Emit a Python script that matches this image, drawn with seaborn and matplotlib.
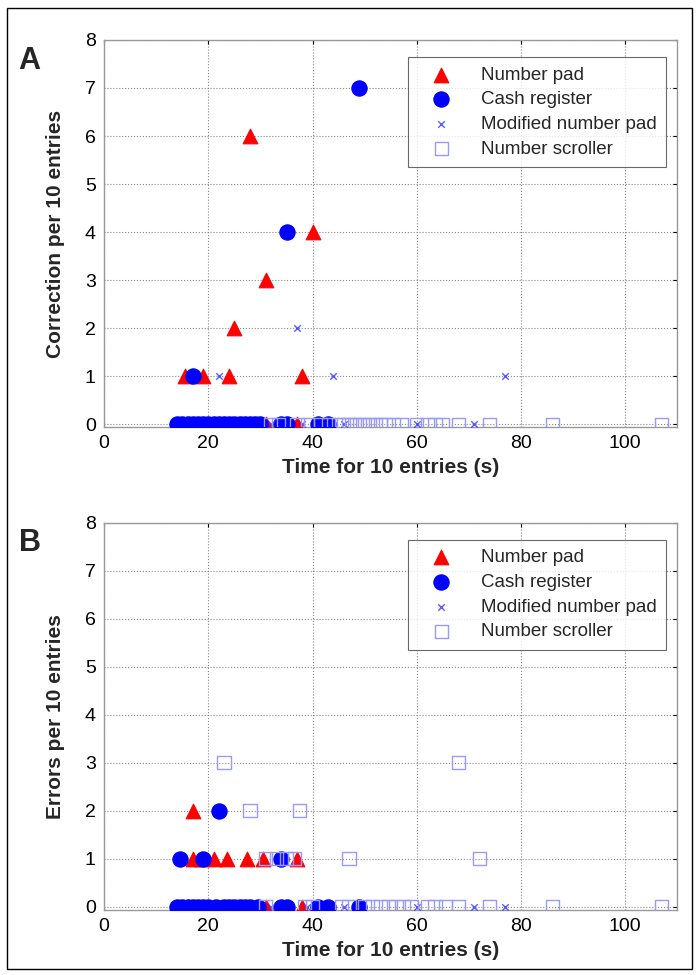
import pandas as pd
import seaborn as sns
import matplotlib.pyplot as plt
from matplotlib.patches import Rectangle

# ---- Panel A: corrections per 10 entries ----
pad_a_x = [28, 40, 31, 25, 15.5, 19, 24, 38,
           14.5, 16, 17.5, 18.5, 20, 21, 22, 23, 24.5, 25.5, 26.5, 27, 28.5, 29.5, 31, 37]
pad_a_y = [6, 4, 3, 2, 1, 1, 1, 1,
           0, 0, 0, 0, 0, 0, 0, 0, 0, 0, 0, 0, 0, 0, 0, 0]
cash_a_x = [49, 35, 17,
            14, 15, 16, 17, 18, 19, 20, 21, 22, 23, 24, 25, 26, 27, 28, 29, 30, 34, 35, 41, 43]
cash_a_y = [7, 4, 1,
            0, 0, 0, 0, 0, 0, 0, 0, 0, 0, 0, 0, 0, 0, 0, 0, 0, 0, 0, 0, 0]
mod_a_x = [37, 22, 44, 77, 32, 38, 46, 60, 71]
mod_a_y = [2, 1, 1, 1, 0, 0, 0, 0, 0]
scroll_a_x = [32, 33.5, 37, 39, 41.5, 43, 45, 46, 47, 48, 49, 50, 51, 52, 53, 54, 55.5, 57,
              60, 62, 63.5, 65, 68, 74, 86, 107]
scroll_a_y = [0] * len(scroll_a_x)

# ---- Panel B: errors per 10 entries ----
pad_b_x = [17, 17, 18.5, 21, 23.5, 27.5, 30.5, 37,
           14.5, 16, 17.5, 18.5, 20, 21, 22.5, 23.5, 24.5, 25.5, 26.5, 28, 29.5, 31, 38]
pad_b_y = [2, 1, 1, 1, 1, 1, 1, 1,
           0, 0, 0, 0, 0, 0, 0, 0, 0, 0, 0, 0, 0, 0, 0]
cash_b_x = [22, 14.5, 19, 34,
            14, 15, 16, 17, 18, 19, 20, 21.5, 23, 24, 25, 26, 27, 28, 29.5, 34, 35, 41, 43, 49]
cash_b_y = [2, 1, 1, 1,
            0, 0, 0, 0, 0, 0, 0, 0, 0, 0, 0, 0, 0, 0, 0, 0, 0, 0, 0, 0]
mod_b_x = [32, 39, 46, 60, 71, 77]
mod_b_y = [0, 0, 0, 0, 0, 0]
scroll_b_x = [23, 68, 28, 37.5, 31, 33, 35, 36.5, 47, 72,
              31, 38.5, 40, 45.5, 47, 50, 51.5, 53, 54.5, 56, 57.5, 59, 62, 63.5, 65.5, 68, 74, 86, 107]
scroll_b_y = [3, 3, 2, 2, 1, 1, 1, 1, 1, 1,
              0, 0, 0, 0, 0, 0, 0, 0, 0, 0, 0, 0, 0, 0, 0, 0, 0, 0, 0]

labels = ["Number pad", "Cash register", "Modified number pad", "Number scroller"]

sns.set_style("white")
plt.rcParams["font.family"] = ["Liberation Sans", "DejaVu Sans"]


def draw_panel(ax, series, ylabel, letter):
    # series: list of (x, y) in legend order
    styles = [
        dict(marker="^", s=110, color="#ff0000", edgecolor="#ff0000"),
        dict(marker="o", s=120, color="#0000ff", edgecolor="#0000ff"),
        dict(marker="x", s=22, color="#3333ff", linewidth=1.0, alpha=0.8),
        dict(marker="s", s=90, facecolor="none", edgecolor="#9999ff", linewidth=1.0),
    ]
    for (x, y), lab, st in zip(series, labels, styles):
        df = pd.DataFrame({"x": x, "y": y})
        sns.scatterplot(data=df, x="x", y="y", ax=ax, label=lab, zorder=3, **st)

    ax.set_xlim(0, 110)
    ax.set_ylim(-0.06, 8)
    ax.set_xticks([0, 20, 40, 60, 80, 100])
    ax.set_yticks(range(0, 9))
    ax.grid(True, linestyle=":", color="#888888", linewidth=0.8)
    ax.tick_params(direction="in", length=3, colors="black", labelsize=14,
                   top=True, right=True, pad=6)
    for sp in ax.spines.values():
        sp.set_color("#999999")
        sp.set_linewidth(1.0)
    ax.set_xlabel("Time for 10 entries (s)", fontsize=15, fontweight="bold", labelpad=4)
    ax.set_ylabel(ylabel, fontsize=15, fontweight="bold", labelpad=14)
    ax.text(-0.13, 0.985, letter, transform=ax.transAxes, fontsize=22,
            fontweight="bold", va="top", ha="center")
    leg = ax.legend(loc="upper right", bbox_to_anchor=(0.99, 0.97), fontsize=13.5,
                    frameon=True, fancybox=False, edgecolor="#444444",
                    borderpad=0.5, handletextpad=0.8, labelspacing=0.4,
                    borderaxespad=0.3, handlelength=2.6)
    leg.get_frame().set_linewidth(0.8)


fig = plt.figure(figsize=(6.99, 9.75), dpi=100)
ax_a = fig.add_axes([0.149, 0.562, 0.82, 0.397])
ax_b = fig.add_axes([0.149, 0.067, 0.82, 0.397])

draw_panel(ax_a, [(pad_a_x, pad_a_y), (cash_a_x, cash_a_y), (mod_a_x, mod_a_y),
                  (scroll_a_x, scroll_a_y)], "Correction per 10 entries", "A")
draw_panel(ax_b, [(pad_b_x, pad_b_y), (cash_b_x, cash_b_y), (mod_b_x, mod_b_y),
                  (scroll_b_x, scroll_b_y)], "Errors per 10 entries", "B")

# outer frame around the figure
fig.patches.append(Rectangle((0.01, 0.006), 0.98, 0.986, transform=fig.transFigure,
                             fill=False, edgecolor="black", linewidth=1.0))

fig.savefig("out.png", dpi=100)
